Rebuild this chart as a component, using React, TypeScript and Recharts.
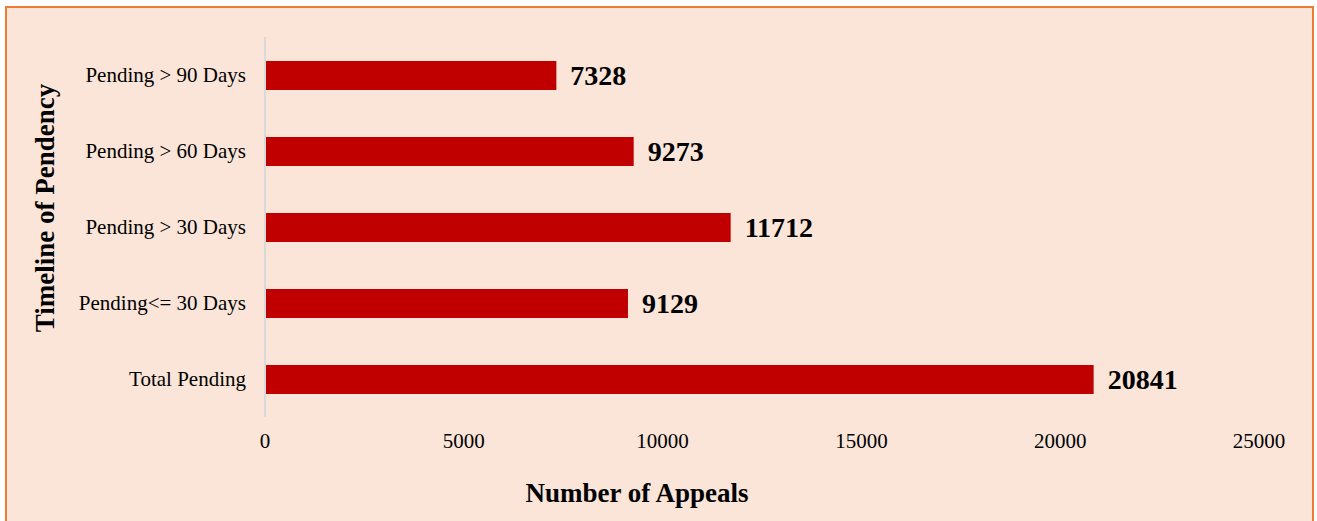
import { BarChart, Bar, XAxis, YAxis, LabelList } from 'recharts';

const categories = ['Pending > 90 Days', 'Pending > 60 Days', 'Pending > 30 Days', 'Pending<= 30 Days', 'Total Pending'];
const appeals = [7328, 9273, 11712, 9129, 20841];
const xTicks = [0, 5000, 10000, 15000, 20000, 25000];

const data = categories.map((name, i) => ({ name, value: appeals[i] }));

const serif = '"Liberation Serif", "Times New Roman", serif';

export default function App() {
  return (
    <div style={{ position: 'absolute', left: 0, top: 0, width: 1317, height: 521, overflow: 'hidden', background: '#fff' }}>
      <div
        style={{
          position: 'absolute', left: 5, top: 6, width: 1305, height: 540,
          background: '#FAE5D8', border: '2px solid #ED7D31',
        }}
      />
      <div style={{ position: 'absolute', left: 0, top: 0 }}>
        <BarChart
          width={1317}
          height={521}
          data={data}
          layout="vertical"
          margin={{ top: 37, right: 58, bottom: 0, left: 0 }}
          barCategoryGap={23}
        >
          <XAxis
            type="number"
            domain={[0, 25000]}
            ticks={xTicks}
            axisLine={false}
            tickLine={false}
            tickSize={0}
            tickMargin={16}
            height={104}
            interval={0}
            tick={{ fill: '#000', fontSize: 21, fontFamily: serif }}
          />
          <YAxis
            type="category"
            dataKey="name"
            width={265}
            axisLine={{ stroke: '#D9D9D9', strokeWidth: 2 }}
            tickLine={false}
            tickSize={0}
            tickMargin={19}
            tick={{ fill: '#000', fontSize: 21, fontFamily: serif }}
          />
          <Bar dataKey="value" fill="#C00000" barSize={29} isAnimationActive={false}>
            <LabelList
              dataKey="value"
              position="right"
              offset={14}
              style={{ fill: '#000', fontSize: 28, fontWeight: 700, fontFamily: serif }}
            />
          </Bar>
        </BarChart>
      </div>
      <div
        style={{
          position: 'absolute', left: 437, top: 476, width: 400, textAlign: 'center',
          fontFamily: serif, fontWeight: 700, fontSize: 27, lineHeight: '34px', color: '#000',
        }}
      >
        Number of Appeals
      </div>
      <div
        style={{
          position: 'absolute', left: 45, top: 208, width: 0, height: 0,
        }}
      >
        <div
          style={{
            position: 'absolute', left: -200, top: -17, width: 400, textAlign: 'center',
            transform: 'rotate(-90deg)', fontFamily: serif, fontWeight: 700, fontSize: 27,
            color: '#000', whiteSpace: 'nowrap', lineHeight: '34px',
          }}
        >
          Timeline of Pendency
        </div>
      </div>
    </div>
  );
}
